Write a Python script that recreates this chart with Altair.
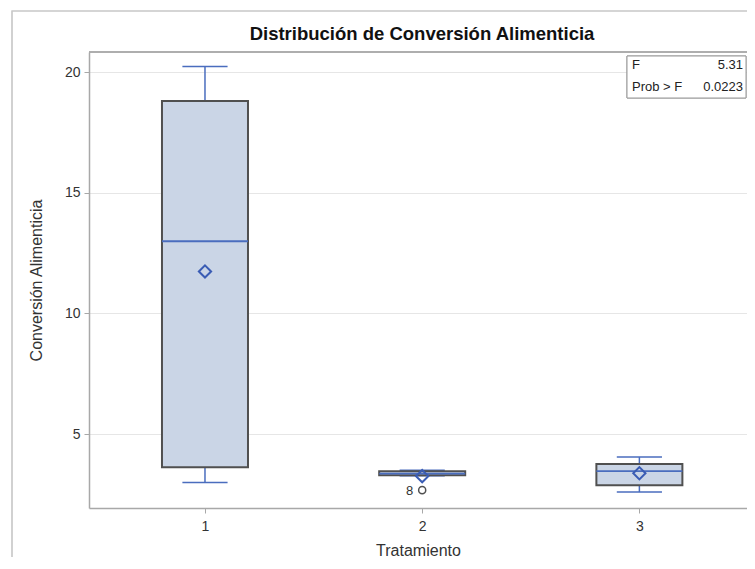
import altair as alt
import pandas as pd

# ---- data ----
tratamiento = [1, 2, 3]
whisker_low = [3.00, 3.28, 2.60]
q1 = [3.63, 3.30, 2.88]
median = [12.99, 3.36, 3.47]
q3 = [18.80, 3.46, 3.76]
whisker_high = [20.23, 3.50, 4.05]
mean = [11.74, 3.26, 3.38]

outlier_trat = [2]
outlier_val = [2.68]
outlier_lab = ["8"]

stat_labels = ["F", "Prob > F"]
stat_values = ["5.31", "0.0223"]

title = "Distribución de Conversión Alimenticia"

FONT = "Liberation Sans"
BLUE = "#4A6DBE"
MEANBLUE = "#3A5CB4"
BOXFILL = "#CAD5E6"
BOXLINE = "#505050"
FRAME = "#A8A8A8"

W, H = 658, 456

df = pd.DataFrame({
    "trat": tratamiento, "wlo": whisker_low, "q1": q1, "med": median,
    "q3": q3, "whi": whisker_high, "mean": mean,
})
out_df = pd.DataFrame({"trat": outlier_trat, "val": outlier_val, "lab": outlier_lab})
stats_df = pd.DataFrame({"lab": stat_labels, "val": stat_values})
title_df = pd.DataFrame({"t": [title]})

xscale = alt.Scale(domain=[0.466, 0.466 + W / 217.2], nice=False, zero=False)
yscale = alt.Scale(domain=[1.94, 20.83], nice=False, zero=False)

xaxis = alt.Axis(values=[1, 2, 3], format="d", title="Tratamiento", grid=False,
                 tickSize=5, labelPadding=6, titleY=42, titleBaseline="middle")
yaxis = alt.Axis(values=[5, 10, 15, 20], title="Conversión Alimenticia", grid=True,
                 tickSize=5, labelPadding=4, titleX=-53, titleBaseline="middle")

base = alt.Chart(df).transform_calculate(
    blo="datum.trat - 0.198", bhi="datum.trat + 0.198",
    clo="datum.trat - 0.104", chi="datum.trat + 0.104",
)

whisk_lo = base.mark_rule(color=BLUE, strokeWidth=1.5).encode(
    x=alt.X("trat:Q", scale=xscale, axis=xaxis),
    y=alt.Y("wlo:Q", scale=yscale, axis=yaxis), y2="q1:Q")
whisk_hi = base.mark_rule(color=BLUE, strokeWidth=1.5).encode(
    x=alt.X("trat:Q", scale=xscale), y=alt.Y("q3:Q", scale=yscale), y2="whi:Q")
cap_lo = base.mark_rule(color=BLUE, strokeWidth=1.5).encode(
    x=alt.X("clo:Q", scale=xscale), x2="chi:Q", y=alt.Y("wlo:Q", scale=yscale))
cap_hi = base.mark_rule(color=BLUE, strokeWidth=1.5).encode(
    x=alt.X("clo:Q", scale=xscale), x2="chi:Q", y=alt.Y("whi:Q", scale=yscale))
box = base.mark_rect(fill=BOXFILL, stroke=BOXLINE, strokeWidth=2).encode(
    x=alt.X("blo:Q", scale=xscale), x2="bhi:Q",
    y=alt.Y("q1:Q", scale=yscale), y2="q3:Q")
med = base.mark_rule(color=BLUE, strokeWidth=1.8).encode(
    x=alt.X("blo:Q", scale=xscale), x2="bhi:Q", y=alt.Y("med:Q", scale=yscale))
meanpt = base.mark_point(shape="diamond", filled=False, color=MEANBLUE, size=150,
                         strokeWidth=2, opacity=1).encode(
    x=alt.X("trat:Q", scale=xscale), y=alt.Y("mean:Q", scale=yscale))

outl = alt.Chart(out_df).mark_point(shape="circle", filled=False, color=BOXLINE,
                                    size=50, strokeWidth=1.5, opacity=1).encode(
    x=alt.X("trat:Q", scale=xscale), y=alt.Y("val:Q", scale=yscale))
outl_lab = alt.Chart(out_df).mark_text(align="right", dx=-9, dy=1, font=FONT,
                                       fontSize=13, color="#333").encode(
    x=alt.X("trat:Q", scale=xscale), y=alt.Y("val:Q", scale=yscale), text="lab:N")

# top border of the plot area (right edge falls outside the window, as in the reference)
top_border = alt.Chart(stats_df).mark_rule(color=FRAME, strokeWidth=1.5).encode(
    x=alt.value(0), x2=alt.value(W + 5), y=alt.value(0))

# inset statistics box (top-right)
inset_box = alt.Chart(stats_df).mark_rect(fill="white", stroke="#999", strokeWidth=1).encode(
    x=alt.value(538), x2=alt.value(657), y=alt.value(4), y2=alt.value(46))
row_y = [13, 35]
inset_layers = []
for i in range(len(stat_labels)):
    one = stats_df.iloc[[i]]
    inset_layers.append(alt.Chart(one).mark_text(
        align="left", baseline="middle", font=FONT, fontSize=13, color="#222").encode(
        x=alt.value(543), y=alt.value(row_y[i]), text="lab:N"))
    inset_layers.append(alt.Chart(one).mark_text(
        align="right", baseline="middle", font=FONT, fontSize=13, color="#222").encode(
        x=alt.value(654), y=alt.value(row_y[i]), text="val:N"))

# chart title, drawn as a text layer above the plot area
title_mark = alt.Chart(title_df).mark_text(
    align="center", baseline="alphabetic", font=FONT, fontSize=18.5,
    fontWeight="bold", color="#111").encode(
    x=alt.value(333), y=alt.value(-12), text="t:N")

# outer frame of the graph
frame = alt.Chart(stats_df).mark_rect(fill=None, stroke="#C8C8C8", strokeWidth=1.2,
                                      clip=False).encode(
    x=alt.value(-77), x2=alt.value(720), y=alt.value(-41), y2=alt.value(540))

chart = alt.layer(
    frame, whisk_lo, whisk_hi, cap_lo, cap_hi, box, med, meanpt, outl, outl_lab,
    top_border, inset_box, *inset_layers, title_mark,
).properties(
    width=W, height=H,
    autosize=alt.AutoSizeParams(type="none"),
    padding={"left": 81, "top": 44, "right": 0, "bottom": 49},
).configure_view(
    stroke=None
).configure_axis(
    labelFont=FONT, titleFont=FONT, labelFontSize=14, titleFontSize=16,
    labelColor="#333", titleColor="#333", titleFontWeight="normal",
    domainColor=FRAME, tickColor=FRAME, gridColor="#E6E6E6",
    domainWidth=1.5,
)

chart.save("out.html", embed_options={"renderer": "svg", "actions": False})
